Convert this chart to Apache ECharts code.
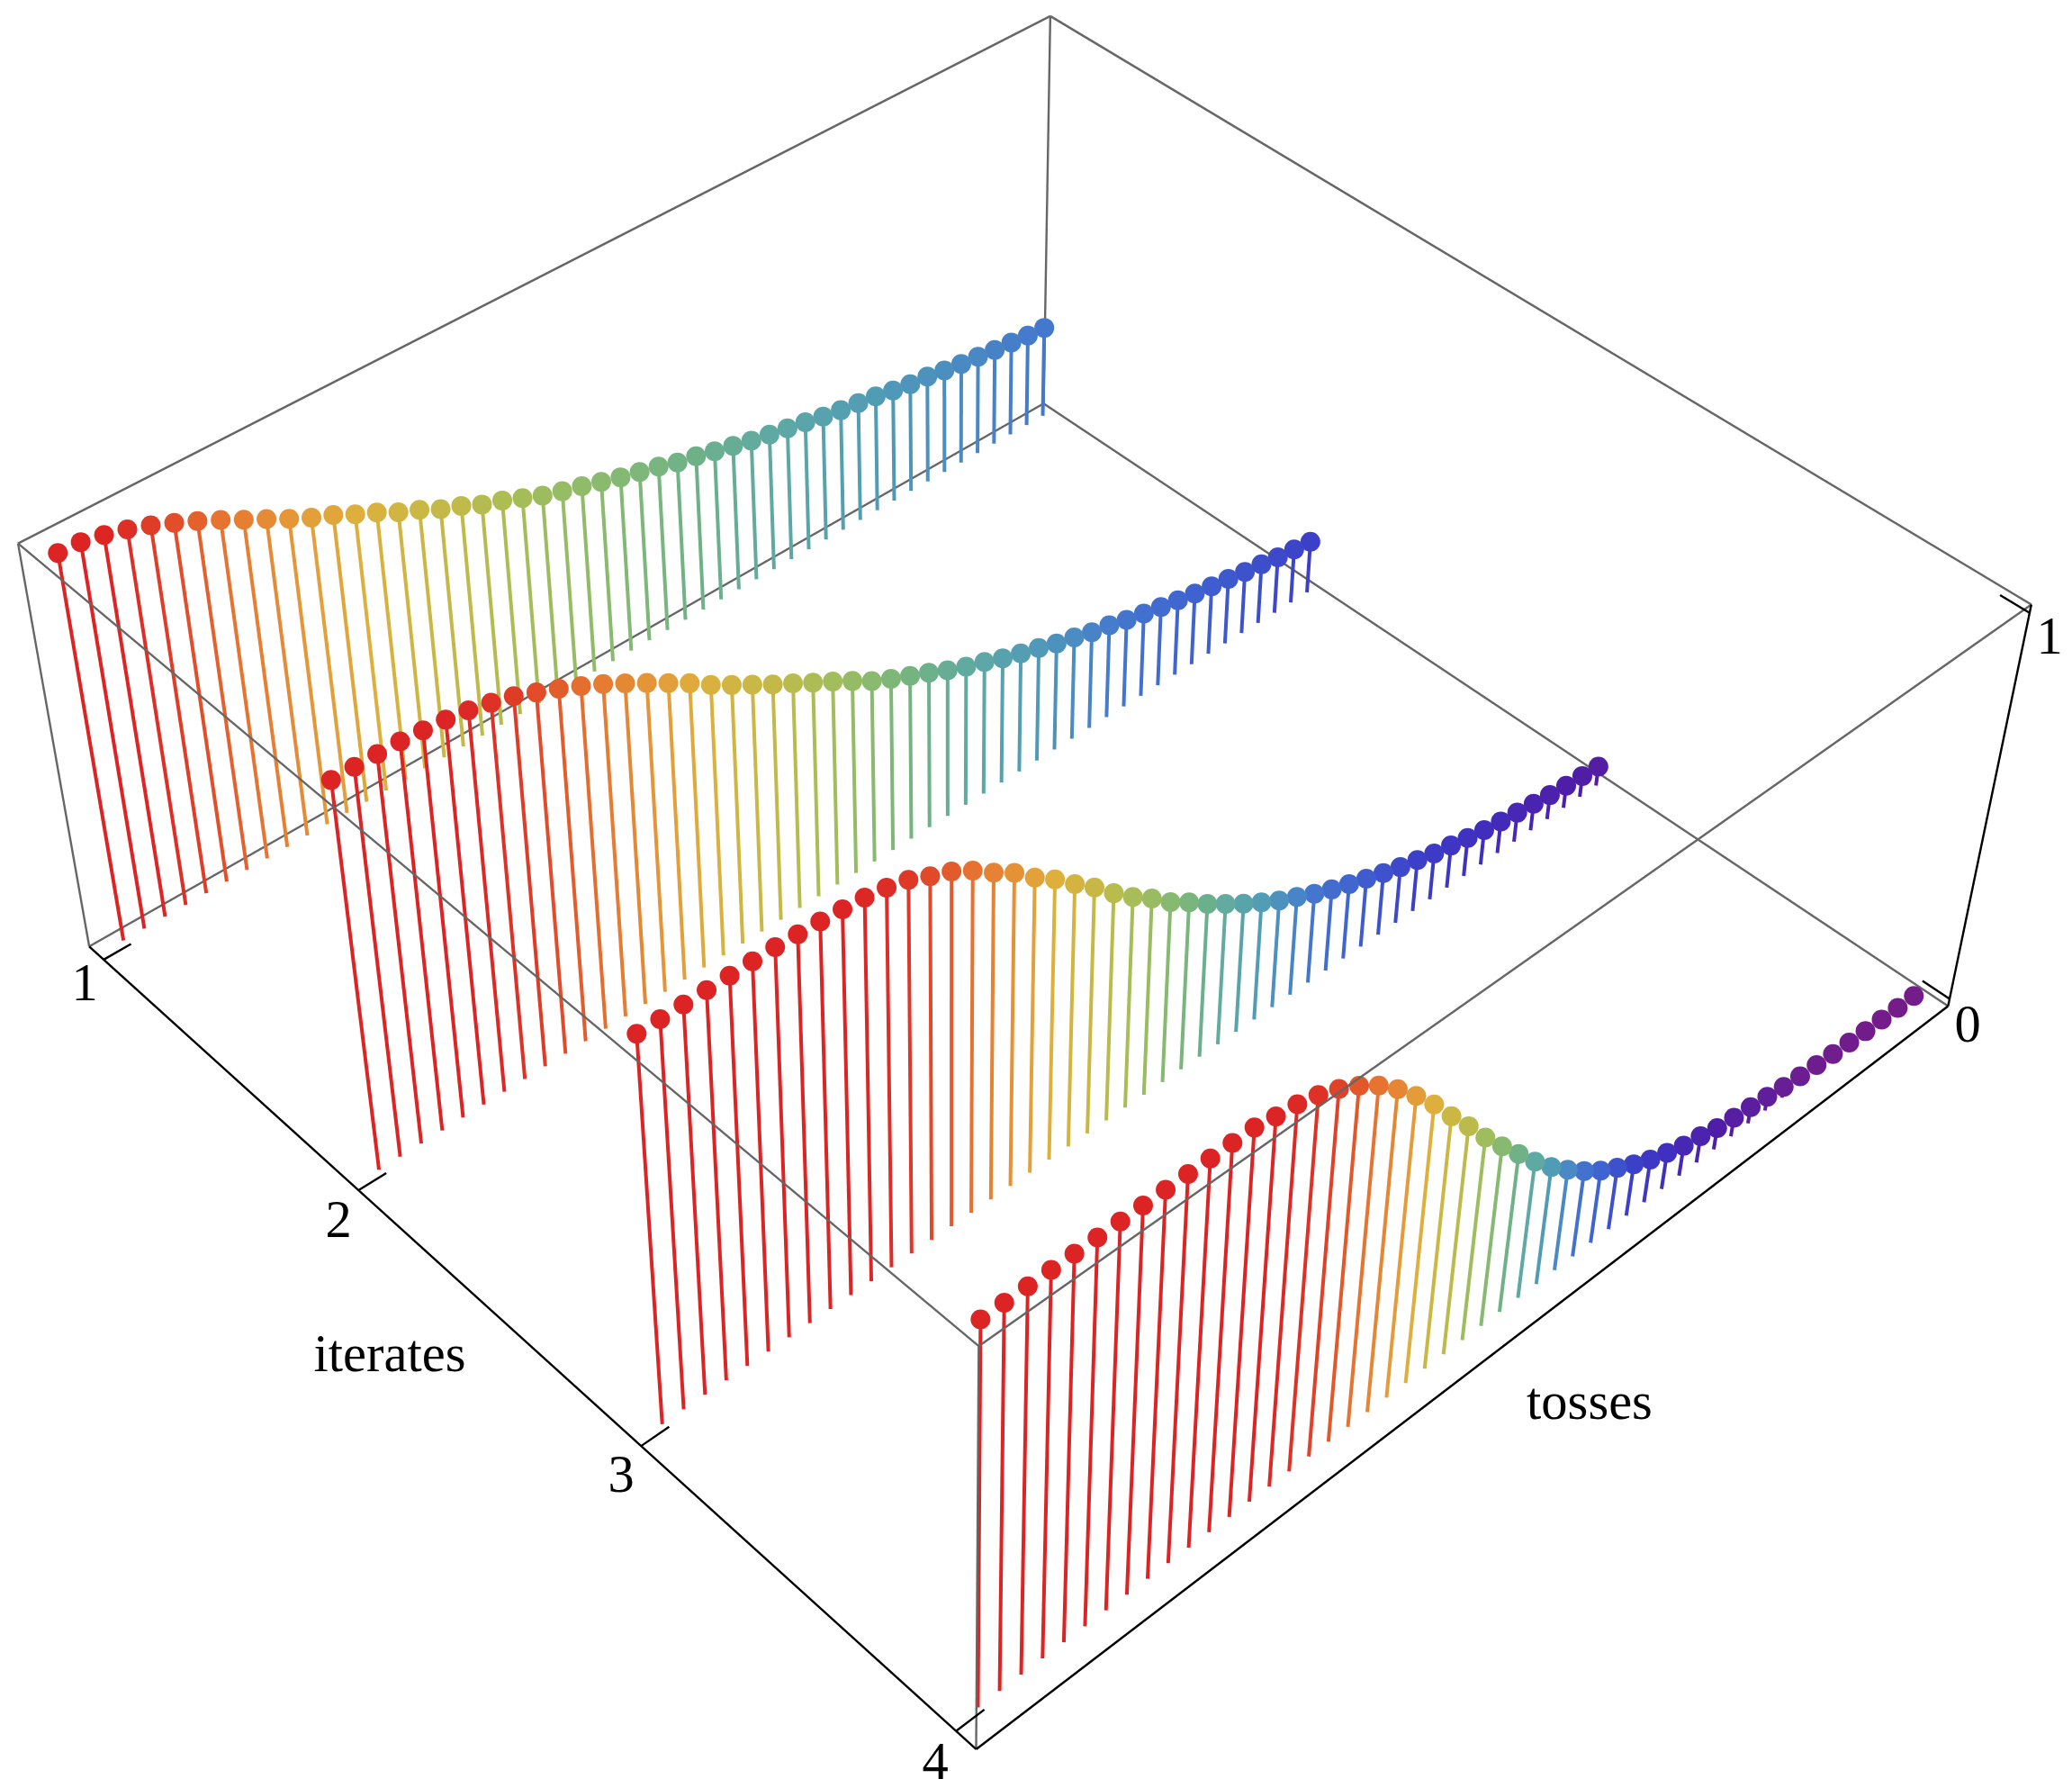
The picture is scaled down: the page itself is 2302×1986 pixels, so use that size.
<!DOCTYPE html>
<html>
<head>
<meta charset="utf-8"/>
<title>iterates</title>
<script src="https://cdn.jsdelivr.net/npm/echarts@6/dist/echarts.min.js"></script>
<style>
html,body{margin:0;padding:0;background:#fff;}
#main{width:2302px;height:1986px;}
</style>
</head>
<body>
<div id="main"></div>
<script type="text/javascript">
// values, one list per iterate, toss 0..50
var iterates = [1, 2, 3, 4];
var zTicks = [0, 1];
var iterate1 = [1, .998, .987, .973, .955, .933, .91, .885, .858, .832, .805, .78, .759, .733, .71, .683, .662, .636, .617, .593, .576, .555, .534, .518, .504, .488, .473, .46, .447, .431, .421, .407, .395, .382, .372, .362, .352, .341, .332, .325, .317, .307, .298, .293, .284, .276, .27, .263, .258, .252, .248];
var iterate2 = [1, 1, 1, .999, .995, .99, .982, .97, .956, .935, .914, .891, .866, .838, .809, .779, .749, .715, .685, .656, .627, .6, .572, .545, .517, .487, .463, .441, .42, .397, .377, .36, .34, .324, .309, .292, .279, .264, .254, .24, .228, .217, .207, .197, .188, .18, .171, .164, .155, .149, .142];
var iterate3 = [1, 1, 1, 1, 1, 1, 1, .997, .994, .99, .985, .976, .962, .938, .917, .887, .85, .817, .773, .736, .692, .651, .604, .562, .525, .483, .45, .413, .38, .348, .319, .291, .268, .244, .223, .205, .187, .17, .154, .141, .127, .117, .106, .096, .088, .081, .074, .067, .062, .058, .053];
var iterate4 = [1, 1, 1, 1, 1, 1, 1, 1, 1, 1, 1, 1, 1, .99, .983, .969, .948, .92, .885, .841, .789, .732, .667, .606, .541, .482, .426, .369, .318, .274, .234, .198, .169, .142, .118, .1, .083, .073, .059, .052, .045, .038, .03, .024, .02, .016, .013, .01, .008, .006, .005];
var rows = [iterate1, iterate2, iterate3, iterate4];

// plot range with the 2% padding of the box
var tossRange = [-1, 51];
var iterRange = [0.94, 4.06];
var zRange = [-0.02, 1.02];

// where the box corners sit on the page: u (tosses), v (iterates), w (height)
var boxCorners = [
	[0, 0, 0, 99, 1051], [0, 1, 0, 1085, 1943], [1, 1, 0, 2164, 1118], [1, 0, 0, 1159.5, 448],
	[0, 0, 1, 20, 604], [0, 1, 1, 1087, 1495], [1, 1, 1, 2257, 671], [1, 0, 1, 1167, 18]
];

// colour follows the height of the point
var colorStops = [
	[0, '#761B87'], [.02, '#6E1D8F'], [.03, '#681E94'], [.045, '#5A1E9F'], [.059, '#4F1DA6'], [.1, '#4030BF'],
	[.142, '#3C40C8'], [.196, '#3F62D0'], [.248, '#4478CD'], [.275, '#4A8AC3'], [.317, '#519CB5'], [.369, '#5FA9A3'],
	[.426, '#6FB287'], [.483, '#87BA70'], [.547, '#A2BD5B'], [.616, '#BFBA4A'], [.666, '#CBB744'], [.735, '#DFAF3C'],
	[.805, '#E59637'], [.885, '#E67330'], [.93, '#E2502A'], [.97, '#DE3127'], [.99, '#DD2424'], [1, '#DD2424']
];

function heightColor(z){
	for(var i = 1; i < colorStops.length; i++){
		if(z <= colorStops[i][0]){
			var t = (z - colorStops[i-1][0]) / (colorStops[i][0] - colorStops[i-1][0]);
			return echarts.color.lerp(t, [colorStops[i-1][1], colorStops[i][1]]);
		}
	}
	return colorStops[colorStops.length-1][1];
}

// least squares camera through the eight corners
function fitCamera(pts){
	var n = 11, A = [], b = [], i, j, k;
	for(i = 0; i < n; i++){
		A.push([]);
		b.push(0);
		for(j = 0; j < n; j++) A[i].push(0);
	}
	pts.forEach(function(p){
		var eqs = [
			[[p[0], p[1], p[2], 1, 0, 0, 0, 0, -p[3]*p[0], -p[3]*p[1], -p[3]*p[2]], p[3]],
			[[0, 0, 0, 0, p[0], p[1], p[2], 1, -p[4]*p[0], -p[4]*p[1], -p[4]*p[2]], p[4]]
		];
		eqs.forEach(function(e){
			for(i = 0; i < n; i++){
				b[i] += e[0][i] * e[1];
				for(j = 0; j < n; j++) A[i][j] += e[0][i] * e[0][j];
			}
		});
	});
	for(i = 0; i < n; i++){
		var best = i;
		for(k = i + 1; k < n; k++) if(Math.abs(A[k][i]) > Math.abs(A[best][i])) best = k;
		var tmp = A[i]; A[i] = A[best]; A[best] = tmp;
		tmp = b[i]; b[i] = b[best]; b[best] = tmp;
		for(k = i + 1; k < n; k++){
			var f = A[k][i] / A[i][i];
			for(j = i; j < n; j++) A[k][j] -= f * A[i][j];
			b[k] -= f * b[i];
		}
	}
	var m = [];
	for(i = n - 1; i >= 0; i--){
		var s = b[i];
		for(j = i + 1; j < n; j++) s -= A[i][j] * m[j];
		m[i] = s / A[i][i];
	}
	return m;
}
var cam = fitCamera(boxCorners);

function boxPoint(u, v, w){
	var d = cam[8]*u + cam[9]*v + cam[10]*w + 1;
	return [(cam[0]*u + cam[1]*v + cam[2]*w + cam[3]) / d, (cam[4]*u + cam[5]*v + cam[6]*w + cam[7]) / d];
}
function toU(t){ return (t - tossRange[0]) / (tossRange[1] - tossRange[0]); }
function toV(i){ return (i - iterRange[0]) / (iterRange[1] - iterRange[0]); }
function toW(z){ return (z - zRange[0]) / (zRange[1] - zRange[0]); }

function renderStem(params, api){
	var toss = api.value(0), it = api.value(1), val = api.value(2);
	var top = api.coord(boxPoint(toU(toss), toV(it), toW(val)));
	var base = api.coord(boxPoint(toU(toss), toV(it), toW(0)));
	var c = heightColor(val);
	return {
		type: 'group',
		children: [
			{type: 'line', shape: {x1: base[0], y1: base[1], x2: top[0], y2: top[1]}, style: {stroke: c, lineWidth: 4}},
			{type: 'circle', shape: {cx: top[0], cy: top[1], r: 11}, style: {fill: c}}
		]
	};
}

function edgeSeries(segs, color, width, z){
	return {
		type: 'lines',
		coordinateSystem: 'cartesian2d',
		silent: true,
		z: z,
		lineStyle: {color: color, width: width, opacity: 1, curveness: 0},
		data: segs.map(function(s){
			return {coords: [boxPoint(s[0], s[1], s[2]), boxPoint(s[3], s[4], s[5])]};
		})
	};
}

var series = [];
// edges behind the stems
series.push(edgeSeries([
	[0,0,0, 0,0,1], [0,0,0, 1,0,0], [1,0,0, 1,1,0], [1,0,0, 1,0,1],
	[0,0,1, 1,0,1], [1,0,1, 1,1,1]
], '#666666', 2.4, 1));

rows.forEach(function(vals, r){
	var data = [];
	// far tosses first
	for(var i = vals.length - 1; i >= 0; i--) data.push([i, iterates[r], vals[i]]);
	series.push({
		type: 'custom',
		coordinateSystem: 'cartesian2d',
		silent: true,
		clip: false,
		z: 2 + r,
		encode: {x: 0, y: 1},
		renderItem: renderStem,
		data: data
	});
});

// edges in front
series.push(edgeSeries([
	[0,0,1, 0,1,1], [0,1,1, 1,1,1], [0,1,0, 0,1,1]
], '#666666', 2.4, 10));

// black axes and ticks
var axisSegs = [[0,0,0, 0,1,0], [0,1,0, 1,1,0], [1,1,0, 1,1,1]];
iterates.forEach(function(it){
	axisSegs.push([0, toV(it), 0, 0.025, toV(it), 0]);
});
zTicks.forEach(function(z){
	axisSegs.push([1, 1, toW(z), 1, 0.974, toW(z)]);
});
series.push(edgeSeries(axisSegs, '#000000', 2.4, 11));

function label(text, x, y){
	return {
		type: 'text',
		x: x,
		y: y,
		z: 20,
		style: {text: text, fill: '#000', font: '58.5px "Liberation Serif"', textAlign: 'center', textVerticalAlign: 'middle'}
	};
}

var myChart = echarts.init(document.getElementById('main'));
myChart.setOption({
	animation: false,
	backgroundColor: '#fff',
	grid: {left: 0, right: 0, top: 0, bottom: 0},
	xAxis: {type: 'value', min: 0, max: 2302, show: false},
	yAxis: {type: 'value', min: 0, max: 1986, inverse: true, show: false},
	series: series,
	graphic: [
		label('iterates', 433, 1508),
		label('tosses', 1766, 1561),
		label('1', 94, 1096),
		label('2', 376, 1359),
		label('3', 690, 1642),
		label('4', 1039, 1961),
		label('0', 2186, 1142),
		label('1', 2277, 711)
	]
});
</script>
</body>
</html>
